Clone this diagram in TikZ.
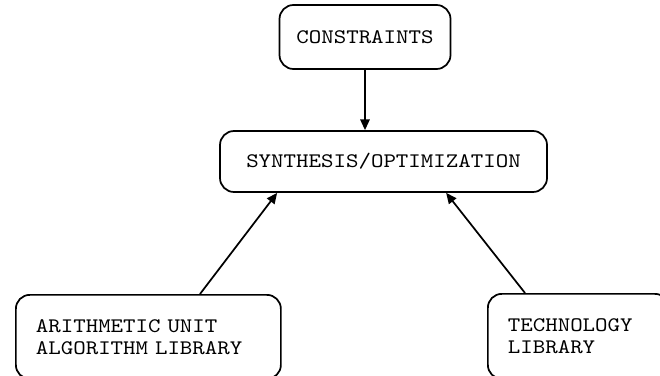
\documentclass[tikz,border=0pt]{standalone}
\usepackage{fontspec}
\usetikzlibrary{arrows.meta, positioning, calc}
\newfontfamily\boxfont[FakeStretch=1.15]{lmmono10-regular.otf}

\begin{document}
\begin{tikzpicture}[
    x=0.75pt, y=-0.75pt,
    box/.style={draw, line width=1.3pt, rounded corners=10.5pt, inner sep=0pt,
        font=\boxfont\fontsize{15.5pt}{16.5pt}\selectfont},
    arrow/.style={-{Triangle[length=8pt, width=7pt]}, line width=1.3pt}
]

    % Frame (picture is cut at right and bottom)
    \useasboundingbox (0,0) rectangle (660,375);
    \clip (0,0) rectangle (660,375);

    % Top boxes
    \node[box, minimum width=128.25pt, minimum height=48pt] (constraints) at (365,37) {CONSTRAINTS};
    \node[box, minimum width=245.25pt, minimum height=45.75pt] (synth) at (383.5,161.5) {SYNTHESIS/OPTIMIZATION};

    % Libraries
    \node[box, anchor=north west, minimum width=198.75pt, minimum height=63pt,
        inner xsep=15pt, text width=168.75pt, align=left] (arith) at (15,294)
        {ARITHMETIC UNIT\\ALGORITHM LIBRARY};
    \node[box, anchor=north west, minimum width=135.75pt, minimum height=63.75pt,
        inner xsep=15pt, text width=105.75pt, align=left] (tech) at (487,293)
        {TECHNOLOGY\\LIBRARY};

    % Arrows
    \draw[arrow] (constraints.south) -- (constraints.south |- synth.north);
    \draw[arrow] ($(arith.north west)+(185,0)$) -- ($(synth.south west)+(58,0)$);
    \draw[arrow] ($(tech.north west)+(38,0)$) -- ($(synth.south west)+(227,0)$);

\end{tikzpicture}
\end{document}
